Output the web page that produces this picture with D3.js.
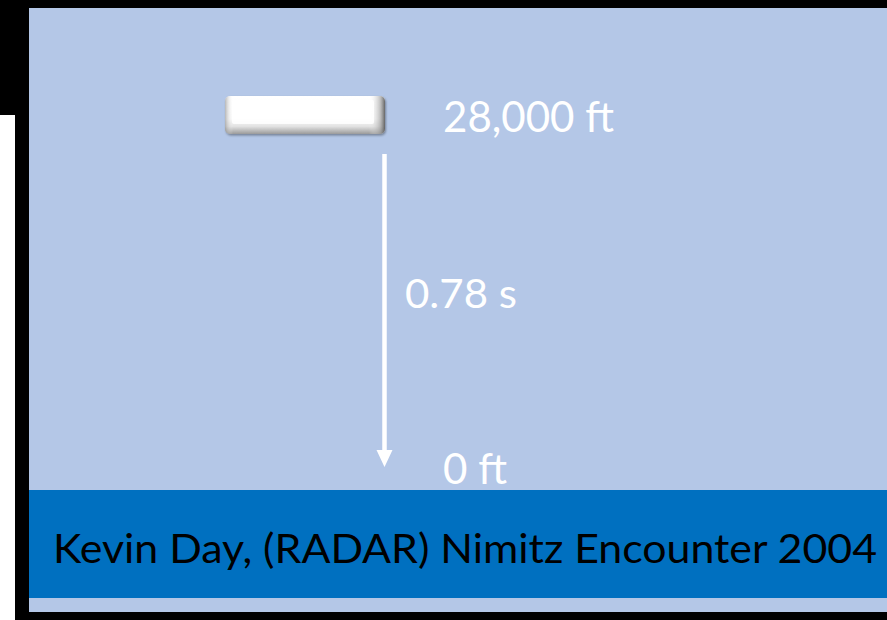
<!DOCTYPE html>
<html><head><meta charset="utf-8">
<script src="https://cdn.jsdelivr.net/npm/d3@7"></script>
<style>html,body{margin:0;padding:0;background:#000;overflow:hidden}</style>
</head><body>
<script>
const altitudes = [28000, 0];
const altitudeLabels = ["28,000 ft", "0 ft"];
const fallTime = [0.78];
const timeLabels = ["0.78 s"];
const caption = ["Kevin Day, (RADAR) Nimitz Encounter 2004"];

const W = 887, H = 620;
const svg = d3.select("body").append("svg").attr("width", W).attr("height", H);
const defs = svg.append("defs");

// backgrounds
svg.append("rect").attr("x",0).attr("y",0).attr("width",W).attr("height",H).attr("fill","#000");
svg.append("rect").attr("x",0).attr("y",115).attr("width",15).attr("height",H-115).attr("fill","#fff");
svg.append("rect").attr("x",29).attr("y",8).attr("width",W-29).attr("height",604).attr("fill","#B4C7E7");
svg.append("rect").attr("x",29).attr("y",490).attr("width",W-29).attr("height",108).attr("fill","#0070C0");

const y = d3.scaleLinear().domain([0, d3.max(altitudes)]).range([467, 115]);
const xObj = 305, xArrow = 384.5, xLabel = 443;

// bar object gradients
const gv = defs.append("linearGradient").attr("id","gv").attr("x1",0).attr("y1",0).attr("x2",0).attr("y2",1);
gv.append("stop").attr("offset","0").attr("stop-color","#ffffff");
gv.append("stop").attr("offset","0.6").attr("stop-color","#fbfbfb");
gv.append("stop").attr("offset","0.8").attr("stop-color","#e2e2e2");
gv.append("stop").attr("offset","1").attr("stop-color","#9a9a9a");
const gh = defs.append("linearGradient").attr("id","gh").attr("x1",0).attr("y1",0).attr("x2",1).attr("y2",0);
gh.append("stop").attr("offset","0").attr("stop-color","#888").attr("stop-opacity",0.6);
gh.append("stop").attr("offset","0.05").attr("stop-color","#fff").attr("stop-opacity",0);
gh.append("stop").attr("offset","0.9").attr("stop-color","#fff").attr("stop-opacity",0);
gh.append("stop").attr("offset","0.97").attr("stop-color","#999").attr("stop-opacity",0.6);
gh.append("stop").attr("offset","1").attr("stop-color","#555").attr("stop-opacity",0.9);
const f = defs.append("filter").attr("id","sh").attr("x","-10%").attr("y","-30%").attr("width","120%").attr("height","160%");
f.append("feDropShadow").attr("dx",1).attr("dy",1.5).attr("stdDeviation",1.2).attr("flood-color","#000").attr("flood-opacity",0.35);

const objW = 160, objH = 38;
const obj = svg.append("g").datum(altitudes[0]);
obj.append("rect").attr("x",xObj-objW/2).attr("y",d=>y(d)-objH/2).attr("width",objW).attr("height",objH)
  .attr("rx",5).attr("fill","url(#gv)").attr("filter","url(#sh)");
obj.append("rect").attr("x",xObj-objW/2).attr("y",d=>y(d)-objH/2).attr("width",objW).attr("height",objH)
  .attr("rx",5).attr("fill","url(#gh)");
obj.append("rect").attr("x",xObj-objW/2+7).attr("y",d=>y(d)-objH/2+4).attr("width",objW-18).attr("height",objH-14)
  .attr("rx",2).attr("fill","#fff").attr("opacity",0.85);

// arrow
svg.append("line").attr("x1",xArrow).attr("x2",xArrow).attr("y1",y(altitudes[0])+39).attr("y2",y(altitudes[1])-14)
  .attr("stroke","#fff").attr("stroke-width",4.5);
const yt = y(altitudes[1]);
svg.append("path").attr("d",`M${xArrow-8},${yt-17}L${xArrow+8},${yt-17}L${xArrow},${yt}Z`).attr("fill","#fff");

// labels
const font = "Lato, 'Open Sans', sans-serif";
svg.selectAll("text.alt").data(altitudes).join("text").attr("class","alt")
  .attr("x",xLabel).attr("y",d=>y(d)+16.5)
  .attr("fill","#fff").attr("font-family",font).attr("font-size",43)
  .attr("textLength",(d,i)=>i===0?171:64).attr("lengthAdjust","spacingAndGlyphs")
  .text((d,i)=>altitudeLabels[i]);

svg.selectAll("text.time").data(fallTime).join("text").attr("class","time")
  .attr("x",405).attr("y",(y(altitudes[0])+y(altitudes[1]))/2+17)
  .attr("fill","#fff").attr("font-family",font).attr("font-size",40)
  .attr("textLength",112).attr("lengthAdjust","spacingAndGlyphs")
  .text((d,i)=>timeLabels[i]);

svg.selectAll("text.cap").data(caption).join("text").attr("class","cap")
  .attr("x",53).attr("y",563)
  .attr("fill","#000").attr("font-family",font).attr("font-size",40)
  .attr("textLength",824).attr("lengthAdjust","spacingAndGlyphs")
  .text(d=>d);
</script>
</body></html>
